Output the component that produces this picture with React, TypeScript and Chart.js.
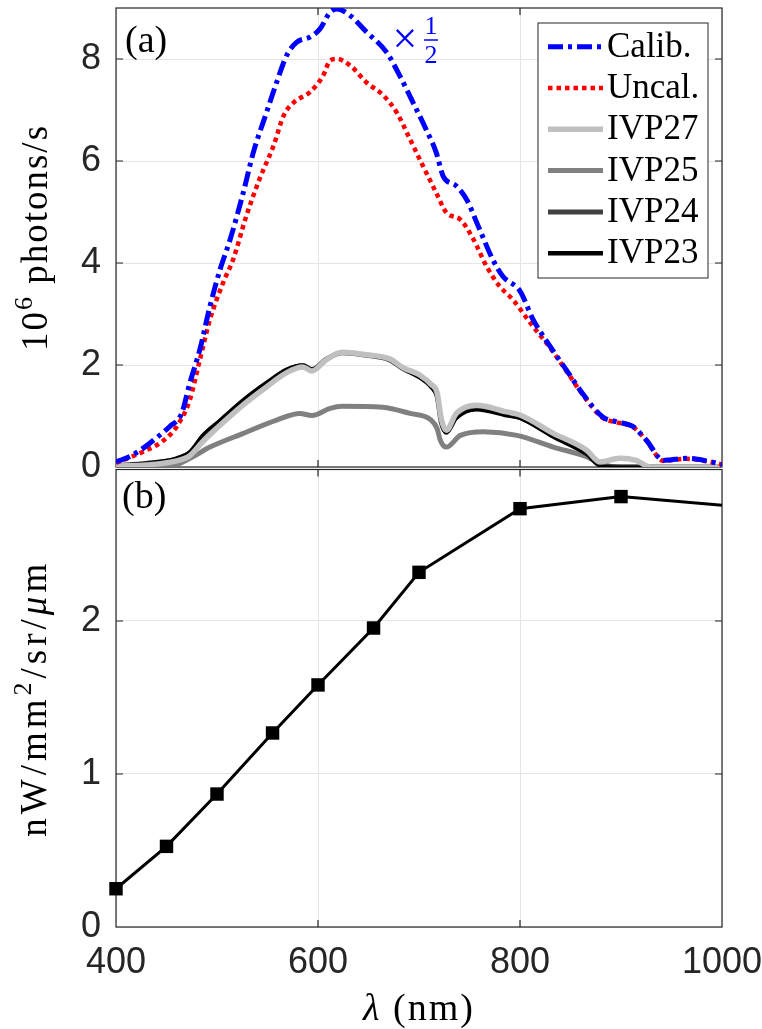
import React, { useEffect, useRef } from "react";
import { Chart, registerables } from "chart.js";
Chart.register(...registerables);

// ---------- data ----------
const xTicks = [400, 600, 800, 1000];
const topYTicks = [0, 2, 4, 6, 8];
const bottomYTicks = [0, 1, 2];

const legendNames = ["Calib.", "Uncal.", "IVP27", "IVP25", "IVP24", "IVP23"];

const calibNm = [400, 415, 427, 440, 453, 465, 473, 483, 493, 503, 513, 526, 536, 549, 559, 569, 579, 592, 602, 612, 619, 632, 648, 668, 681, 694, 707, 717, 724, 737, 747, 760, 773, 783, 800, 813, 830, 846, 862, 882, 895, 912, 925, 942, 965, 985, 1000];
const calibVal = [0.10, 0.22, 0.37, 0.57, 0.79, 1.05, 1.64, 2.30, 3.15, 3.87, 4.46, 5.38, 6.17, 6.95, 7.54, 8.07, 8.33, 8.43, 8.59, 8.92, 8.98, 8.85, 8.53, 8.13, 7.67, 7.15, 6.62, 6.17, 5.70, 5.51, 5.25, 4.66, 4.07, 3.74, 3.45, 2.89, 2.36, 1.90, 1.44, 0.98, 0.89, 0.79, 0.53, 0.13, 0.17, 0.12, 0.05];

const uncalNm = [400, 427, 447, 460, 473, 483, 493, 506, 516, 529, 542, 556, 566, 576, 592, 605, 612, 619, 632, 648, 665, 678, 691, 704, 717, 727, 741, 754, 767, 780, 793, 810, 830, 846, 862, 882, 895, 912, 925, 942, 965, 985, 1000];
const uncalVal = [0.08, 0.30, 0.52, 0.79, 1.31, 2.10, 2.89, 3.61, 4.07, 4.92, 5.64, 6.30, 6.89, 7.15, 7.35, 7.67, 7.97, 8.00, 7.87, 7.54, 7.28, 6.95, 6.43, 5.90, 5.38, 4.99, 4.85, 4.46, 3.93, 3.54, 3.28, 2.83, 2.33, 1.88, 1.42, 0.96, 0.88, 0.78, 0.52, 0.12, 0.16, 0.11, 0.05];

const ivp27Nm = [400, 430, 460, 473, 486, 503, 526, 549, 569, 585, 594, 608, 624, 648, 671, 684, 701, 712, 718, 722, 727, 737, 757, 787, 800, 833, 866, 879, 899, 915, 929, 1000];
const ivp27Val = [0.02, 0.04, 0.12, 0.22, 0.50, 0.82, 1.22, 1.57, 1.85, 1.96, 1.88, 2.10, 2.25, 2.20, 2.12, 1.95, 1.80, 1.62, 1.45, 0.95, 0.72, 1.05, 1.21, 1.08, 1.02, 0.66, 0.33, 0.10, 0.17, 0.13, 0.00, 0.00];

const ivp25Nm = [400, 430, 460, 476, 493, 526, 559, 582, 594, 612, 624, 664, 691, 712, 718, 721, 727, 741, 764, 797, 833, 866, 879, 895, 1000];
const ivp25Val = [0.00, 0.01, 0.05, 0.20, 0.39, 0.66, 0.92, 1.05, 1.01, 1.15, 1.19, 1.17, 1.05, 0.92, 0.75, 0.53, 0.39, 0.62, 0.69, 0.62, 0.39, 0.20, 0.07, 0.00, 0.00];

const ivp24Nm = [400, 430, 460, 473, 486, 503, 526, 549, 569, 585, 594, 608, 624, 648, 671, 684, 701, 712, 718, 722, 727, 737, 757, 787, 800, 833, 866, 879, 900, 1000];
const ivp24Val = [0.03, 0.07, 0.16, 0.28, 0.60, 0.90, 1.30, 1.64, 1.90, 1.99, 1.91, 2.11, 2.24, 2.19, 2.10, 1.93, 1.76, 1.58, 1.38, 0.88, 0.69, 0.98, 1.15, 1.03, 0.97, 0.61, 0.27, 0.04, 0.00, 0.00];

const ivp23Nm = [400, 430, 460, 473, 486, 503, 526, 549, 569, 585, 594, 608, 624, 648, 671, 684, 701, 712, 718, 722, 727, 737, 757, 787, 800, 833, 866, 879, 900, 1000];
const ivp23Val = [0.03, 0.08, 0.18, 0.30, 0.63, 0.92, 1.32, 1.66, 1.92, 2.00, 1.92, 2.12, 2.25, 2.19, 2.10, 1.92, 1.74, 1.56, 1.35, 0.85, 0.66, 0.95, 1.12, 1.00, 0.95, 0.58, 0.24, 0.02, 0.00, 0.00];

const respNm = [400, 450, 500, 555, 600, 655, 700, 800, 900, 1000];
const respVal = [0.25, 0.527, 0.869, 1.268, 1.582, 1.954, 2.318, 2.734, 2.813, 2.756];

// ---------- styles ----------
const SANS = '"Liberation Sans", Arial, Helvetica, sans-serif';
const SERIF = '"Liberation Serif", "Times New Roman", serif';
const AXIS = "#262626";
const GRID = "#e4e4e4";
const TICK_SIZE = 36;

const pts = (nm: number[], v: number[]) => nm.map((x, i) => ({ x, y: v[i] }));

type Seg = { t: string; sup?: boolean; italic?: boolean };

function drawSegs(ctx: CanvasRenderingContext2D, segs: Seg[], size: number, cx: number, base: number, rotate: boolean, spacing: number, color = "#000") {
  ctx.save();
  ctx.translate(cx, base);
  if (rotate) ctx.rotate(-Math.PI / 2);
  const font = (s: Seg) => `${s.italic ? "italic " : ""}${s.sup ? Math.round(size * 0.7) : size}px ${SERIF}`;
  (ctx as any).letterSpacing = spacing + "px";
  let total = 0;
  const widths = segs.map((s) => {
    ctx.font = font(s);
    const w = ctx.measureText(s.t).width;
    total += w;
    return w;
  });
  let x = -total / 2;
  ctx.fillStyle = color;
  ctx.textAlign = "left";
  ctx.textBaseline = "alphabetic";
  segs.forEach((s, i) => {
    ctx.font = font(s);
    ctx.fillText(s.t, x, s.sup ? -size * 0.4 : 0);
    x += widths[i];
  });
  ctx.restore();
}

function drawFrame(chart: any) {
  const { ctx, chartArea: a, scales } = chart;
  ctx.save();
  ctx.strokeStyle = AXIS;
  ctx.lineWidth = 1.2;
  ctx.strokeRect(a.left, a.top, a.right - a.left, a.bottom - a.top);
  const L = 7;
  ctx.beginPath();
  scales.x.ticks.forEach((t: any) => {
    const p = scales.x.getPixelForValue(t.value);
    if (p <= a.left + 1 || p >= a.right - 1) return;
    ctx.moveTo(p, a.bottom); ctx.lineTo(p, a.bottom - L);
    ctx.moveTo(p, a.top); ctx.lineTo(p, a.top + L);
  });
  scales.y.ticks.forEach((t: any) => {
    const p = scales.y.getPixelForValue(t.value);
    if (p <= a.top + 1 || p >= a.bottom - 1) return;
    ctx.moveTo(a.left, p); ctx.lineTo(a.left + L, p);
    ctx.moveTo(a.right, p); ctx.lineTo(a.right - L, p);
  });
  ctx.stroke();
  ctx.restore();
}

const yAfterFit = (s: any) => { s.width = 116; s.paddingTop = 0; s.paddingBottom = 0; };
const plainLabel = (v: any) => String(v);

function baseScales(yTicks: number[], yMax: number, xHeight: number, showX: boolean) {
  return {
    x: {
      type: "linear",
      min: 400,
      max: 1000,
      afterBuildTicks: (s: any) => { s.ticks = xTicks.map((v) => ({ value: v })); },
      afterFit: (s: any) => { s.height = xHeight; s.paddingLeft = 0; s.paddingRight = 0; },
      grid: { color: GRID, lineWidth: 1, drawTicks: false },
      border: { display: false },
      ticks: { display: showX, color: AXIS, font: { family: SANS, size: TICK_SIZE }, padding: 14, maxRotation: 0, autoSkip: false, callback: plainLabel },
    },
    y: {
      type: "linear",
      min: 0,
      max: yMax,
      afterBuildTicks: (s: any) => { s.ticks = yTicks.map((v) => ({ value: v })); },
      afterFit: yAfterFit,
      grid: { color: GRID, lineWidth: 1, drawTicks: false },
      border: { display: false },
      ticks: { color: AXIS, font: { family: SANS, size: TICK_SIZE }, padding: 15, callback: plainLabel },
    },
  };
}

export default function App() {
  const topRef = useRef<HTMLCanvasElement>(null);
  const botRef = useRef<HTMLCanvasElement>(null);

  useEffect(() => {
    const lineDs = (label: string, nm: number[], v: number[], color: string, width: number, dash: number[], order: number) => ({
      label,
      data: pts(nm, v),
      borderColor: color,
      backgroundColor: color,
      borderWidth: width,
      borderDash: dash,
      borderCapStyle: "butt",
      borderJoinStyle: "round",
      pointRadius: 0,
      cubicInterpolationMode: "monotone",
      tension: 0.4,
      fill: false,
      order,
    });

    const topPlugin = {
      id: "topDecor",
      beforeDatasetsDraw: (chart: any) => drawFrame(chart),
      afterDraw: (chart: any) => {
        const ctx = chart.ctx as CanvasRenderingContext2D;
        const a = chart.chartArea;
        // panel label
        ctx.save();
        ctx.fillStyle = "#000";
        ctx.font = `38px ${SERIF}`;
        ctx.textBaseline = "alphabetic";
        ctx.textAlign = "left";
        ctx.fillText("(a)", a.left + 9, 52);
        // x 1/2 annotation
        ctx.fillStyle = "#0000ff";
        ctx.strokeStyle = "#0000ff";
        ctx.font = `44px ${SERIF}`;
        ctx.textAlign = "center";
        ctx.fillText("\u00d7", 405, 53);
        ctx.font = `26px ${SERIF}`;
        ctx.fillText("1", 431, 34);
        ctx.fillText("2", 431, 63);
        ctx.lineWidth = 1.5;
        ctx.beginPath(); ctx.moveTo(424, 40); ctx.lineTo(438, 40); ctx.stroke();
        // legend
        const bx = 538, by = 23, bw = 170, bh = 255;
        ctx.fillStyle = "#fff";
        ctx.fillRect(bx, by, bw, bh);
        ctx.strokeStyle = AXIS;
        ctx.lineWidth = 1;
        ctx.strokeRect(bx, by, bw, bh);
        chart.data.datasets.forEach((ds: any, i: number) => {
          const base = 56.7 + i * 41.3;
          const ly = base - 10;
          ctx.save();
          ctx.strokeStyle = ds.borderColor;
          ctx.lineWidth = Math.max(ds.borderWidth, 4.5);
          ctx.setLineDash(ds.borderDash || []);
          ctx.beginPath(); ctx.moveTo(548, ly); ctx.lineTo(603, ly); ctx.stroke();
          ctx.restore();
          ctx.fillStyle = "#000";
          ctx.font = `35px ${SERIF}`;
          ctx.textAlign = "left";
          ctx.fillText(ds.label, 607, base);
        });
        ctx.restore();
        // y title
        drawSegs(ctx, [{ t: "10" }, { t: "6", sup: true }, { t: " photons/s" }], 37, 47, (a.top + a.bottom) / 2, true, 2);
      },
    };

    const topCfg: any = {
      type: "line",
      data: {
        datasets: [
          lineDs(legendNames[0], calibNm, calibVal, "#0000ff", 5, [15, 5, 4, 5], 0),
          lineDs(legendNames[1], uncalNm, uncalVal, "#ff0000", 4.5, [4.5, 4], 1),
          lineDs(legendNames[2], ivp27Nm, ivp27Val, "#c0c0c0", 5.5, [], 2),
          lineDs(legendNames[3], ivp25Nm, ivp25Val, "#808080", 5, [], 5),
          lineDs(legendNames[4], ivp24Nm, ivp24Val, "#404040", 5, [], 4),
          lineDs(legendNames[5], ivp23Nm, ivp23Val, "#000000", 3, [], 3),
        ],
      },
      options: {
        responsive: false,
        animation: false,
        devicePixelRatio: 1,
        layout: { padding: { left: 0, right: 40, top: 8, bottom: 0 } },
        plugins: { legend: { display: false }, tooltip: { enabled: false } },
        scales: baseScales(topYTicks, 9, 33, false),
      },
      plugins: [topPlugin],
    };

    const botPlugin = {
      id: "botDecor",
      beforeDatasetsDraw: (chart: any) => drawFrame(chart),
      afterDraw: (chart: any) => {
        const ctx = chart.ctx as CanvasRenderingContext2D;
        const a = chart.chartArea;
        ctx.save();
        ctx.fillStyle = "#000";
        ctx.font = `38px ${SERIF}`;
        ctx.textAlign = "left";
        ctx.textBaseline = "alphabetic";
        ctx.fillText("(b)", a.left + 6, 48);
        ctx.restore();
        drawSegs(ctx, [{ t: "nW/mm" }, { t: "2", sup: true }, { t: "/sr/" }, { t: "\u03bc", italic: true }, { t: "m" }], 37, 46, (a.top + a.bottom) / 2, true, 4);
        drawSegs(ctx, [{ t: "\u03bb", italic: true }, { t: " (nm)" }], 38, (a.left + a.right) / 2, 560, false, 2);
      },
    };

    const botCfg: any = {
      type: "line",
      data: {
        datasets: [
          {
            label: "response",
            data: pts(respNm, respVal),
            borderColor: "#000",
            backgroundColor: "#000",
            borderWidth: 3,
            pointStyle: "rect",
            pointRadius: (c: any) => (c.raw && c.raw.x >= 1000 ? 0 : 9.5),
            pointBorderWidth: 0,
            pointBackgroundColor: "#000",
            tension: 0,
            clip: false,
          },
        ],
      },
      options: {
        responsive: false,
        animation: false,
        devicePixelRatio: 1,
        layout: { padding: { left: 0, right: 40, top: 8, bottom: 0 } },
        plugins: { legend: { display: false }, tooltip: { enabled: false } },
        scales: baseScales(bottomYTicks, 2.99, 102, true),
      },
      plugins: [botPlugin],
    };

    const c2 = new Chart(botRef.current as HTMLCanvasElement, botCfg);
    const c1 = new Chart(topRef.current as HTMLCanvasElement, topCfg);
    return () => {
      c1.destroy();
      c2.destroy();
    };
  }, []);

  return (
    <div style={{ position: "absolute", left: 0, top: 0, width: 762, height: 1029, background: "#fff" }}>
      <canvas ref={botRef} width={762} height={569} style={{ position: "absolute", left: 0, top: 460, width: 762, height: 569 }} />
      <canvas ref={topRef} width={762} height={500} style={{ position: "absolute", left: 0, top: 0, width: 762, height: 500 }} />
    </div>
  );
}
